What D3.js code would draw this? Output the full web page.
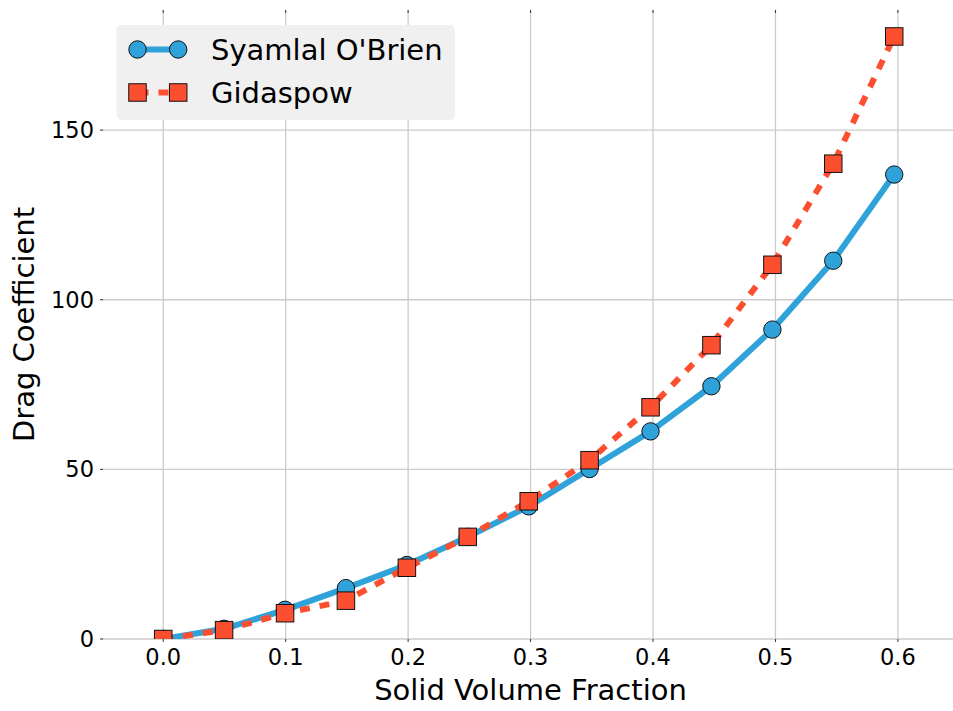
<!DOCTYPE html>
<html>
<head>
<meta charset="utf-8">
<script src="https://cdn.jsdelivr.net/npm/d3@7"></script>
<style>
  html, body { margin: 0; padding: 0; background: #fff; }
  svg { display: block; font-family: "DejaVu Sans", sans-serif; }
</style>
</head>
<body>
<svg id="chart" width="953" height="711"></svg>
<script>
// ---- data ----
const xValues = [0, 0.0497, 0.0995, 0.1492, 0.199, 0.2487, 0.2985, 0.3482, 0.398, 0.4477, 0.4975, 0.5472, 0.597];
const syamlalValues = [0, 3.0, 8.6, 15.0, 21.8, 30.1, 39.1, 50.1, 61.2, 74.5, 91.2, 111.5, 136.9];
const gidaspowValues = [0, 2.6, 7.6, 11.3, 21.0, 30.1, 40.6, 52.7, 68.3, 86.6, 110.3, 140.1, 177.6];
const xTicks = [0, 0.1, 0.2, 0.3, 0.4, 0.5, 0.6];
const yTicks = [0, 50, 100, 150];
const seriesNames = ["Syamlal O'Brien", "Gidaspow"];
const xLabel = "Solid Volume Fraction";
const yLabel = "Drag Coefficient";

const blue = "#30a2da", red = "#fc4f30";
const svg = d3.select("#chart");
const plot = { left: 102, right: 953, top: 10, bottom: 639 };

const x = d3.scaleLinear().domain([-0.05, 0.645]).range([plot.left, plot.right]);
const y = d3.scaleLinear().domain([0, 185.4]).range([plot.bottom, plot.top]);

svg.append("defs").append("clipPath").attr("id", "clip")
  .append("rect").attr("x", plot.left).attr("y", plot.top)
  .attr("width", plot.right - plot.left).attr("height", plot.bottom - plot.top);

// grid
const grid = svg.append("g");
grid.selectAll(".gx").data(xTicks).join("line")
  .attr("x1", d => x(d)).attr("x2", d => x(d))
  .attr("y1", plot.top).attr("y2", plot.bottom)
  .attr("stroke", "#cbcbcb").attr("stroke-width", 1.3);
grid.selectAll(".gy").data(yTicks).join("line")
  .attr("x1", plot.left).attr("x2", plot.right)
  .attr("y1", d => y(d)).attr("y2", d => y(d))
  .attr("stroke", "#cbcbcb").attr("stroke-width", 1.3);

// small tick marks
const ticks = svg.append("g").attr("stroke", "#333").attr("stroke-width", 1);
ticks.selectAll(".tl").data(yTicks).join("line")
  .attr("x1", plot.left - 2).attr("x2", plot.left + 1)
  .attr("y1", d => y(d)).attr("y2", d => y(d));
ticks.selectAll(".tt").data(xTicks).join("line")
  .attr("x1", d => x(d)).attr("x2", d => x(d))
  .attr("y1", plot.top).attr("y2", plot.top + 3);
ticks.selectAll(".tb").data(xTicks).join("line")
  .attr("x1", d => x(d)).attr("x2", d => x(d))
  .attr("y1", plot.bottom).attr("y2", plot.bottom + 3);

// tick labels
const fmtX = d3.format(".1f");
svg.append("g").selectAll("text").data(xTicks).join("text")
  .attr("x", d => x(d)).attr("y", 665)
  .attr("text-anchor", "middle").attr("font-size", 22.5).attr("fill", "#000")
  .text(d => fmtX(d));
svg.append("g").selectAll("text").data(yTicks).join("text")
  .attr("x", 94).attr("y", d => y(d) + 8)
  .attr("text-anchor", "end").attr("font-size", 22.5).attr("fill", "#000")
  .text(d => d);

// axis labels
svg.append("text").attr("x", (plot.left + plot.right) / 2 + 3).attr("y", 700)
  .attr("text-anchor", "middle").attr("font-size", 29).attr("fill", "#000").text(xLabel);
svg.append("text")
  .attr("transform", `translate(34,${(plot.top + plot.bottom) / 2}) rotate(-90)`)
  .attr("text-anchor", "middle").attr("font-size", 29).attr("fill", "#000").text(yLabel);

// series
const data1 = xValues.map((v, i) => [v, syamlalValues[i]]);
const data2 = xValues.map((v, i) => [v, gidaspowValues[i]]);
const line = d3.line().x(d => x(d[0])).y(d => y(d[1]));
const g = svg.append("g").attr("clip-path", "url(#clip)");

g.append("path").datum(data1).attr("d", line)
  .attr("fill", "none").attr("stroke", blue).attr("stroke-width", 6)
  .attr("stroke-linejoin", "round");
g.selectAll(".c").data(data1).join("circle")
  .attr("cx", d => x(d[0])).attr("cy", d => y(d[1])).attr("r", 8.7)
  .attr("fill", blue).attr("stroke", "#111").attr("stroke-width", 1);

g.append("path").datum(data2).attr("d", line)
  .attr("fill", "none").attr("stroke", red).attr("stroke-width", 6)
  .attr("stroke-dasharray", "10,10");
const s = 17.5;
g.selectAll(".s").data(data2).join("rect")
  .attr("x", d => x(d[0]) - s / 2).attr("y", d => y(d[1]) - s / 2)
  .attr("width", s).attr("height", s)
  .attr("fill", red).attr("stroke", "#111").attr("stroke-width", 1);

// legend
const lg = svg.append("g");
lg.append("rect").attr("x", 116.5).attr("y", 25).attr("width", 338.5).attr("height", 95)
  .attr("rx", 5).attr("fill", "#f0f0f0");
const lx1 = 137.5, lx2 = 178.2, ly = [49.5, 92.5];
lg.append("line").attr("x1", lx1).attr("x2", lx2).attr("y1", ly[0]).attr("y2", ly[0])
  .attr("stroke", blue).attr("stroke-width", 6);
[lx1, lx2].forEach(px => lg.append("circle").attr("cx", px).attr("cy", ly[0]).attr("r", 8.7)
  .attr("fill", blue).attr("stroke", "#111").attr("stroke-width", 1));
lg.append("line").attr("x1", lx1 + 1).attr("x2", lx2).attr("y1", ly[1]).attr("y2", ly[1])
  .attr("stroke", red).attr("stroke-width", 6).attr("stroke-dasharray", "10,10");
[lx1, lx2].forEach(px => lg.append("rect").attr("x", px - s / 2).attr("y", ly[1] - s / 2)
  .attr("width", s).attr("height", s)
  .attr("fill", red).attr("stroke", "#111").attr("stroke-width", 1));
lg.selectAll(".lt").data(seriesNames).join("text")
  .attr("x", 211).attr("y", (d, i) => ly[i] + 10.5)
  .attr("font-size", 29).attr("fill", "#000").text(d => d);
</script>
</body>
</html>
